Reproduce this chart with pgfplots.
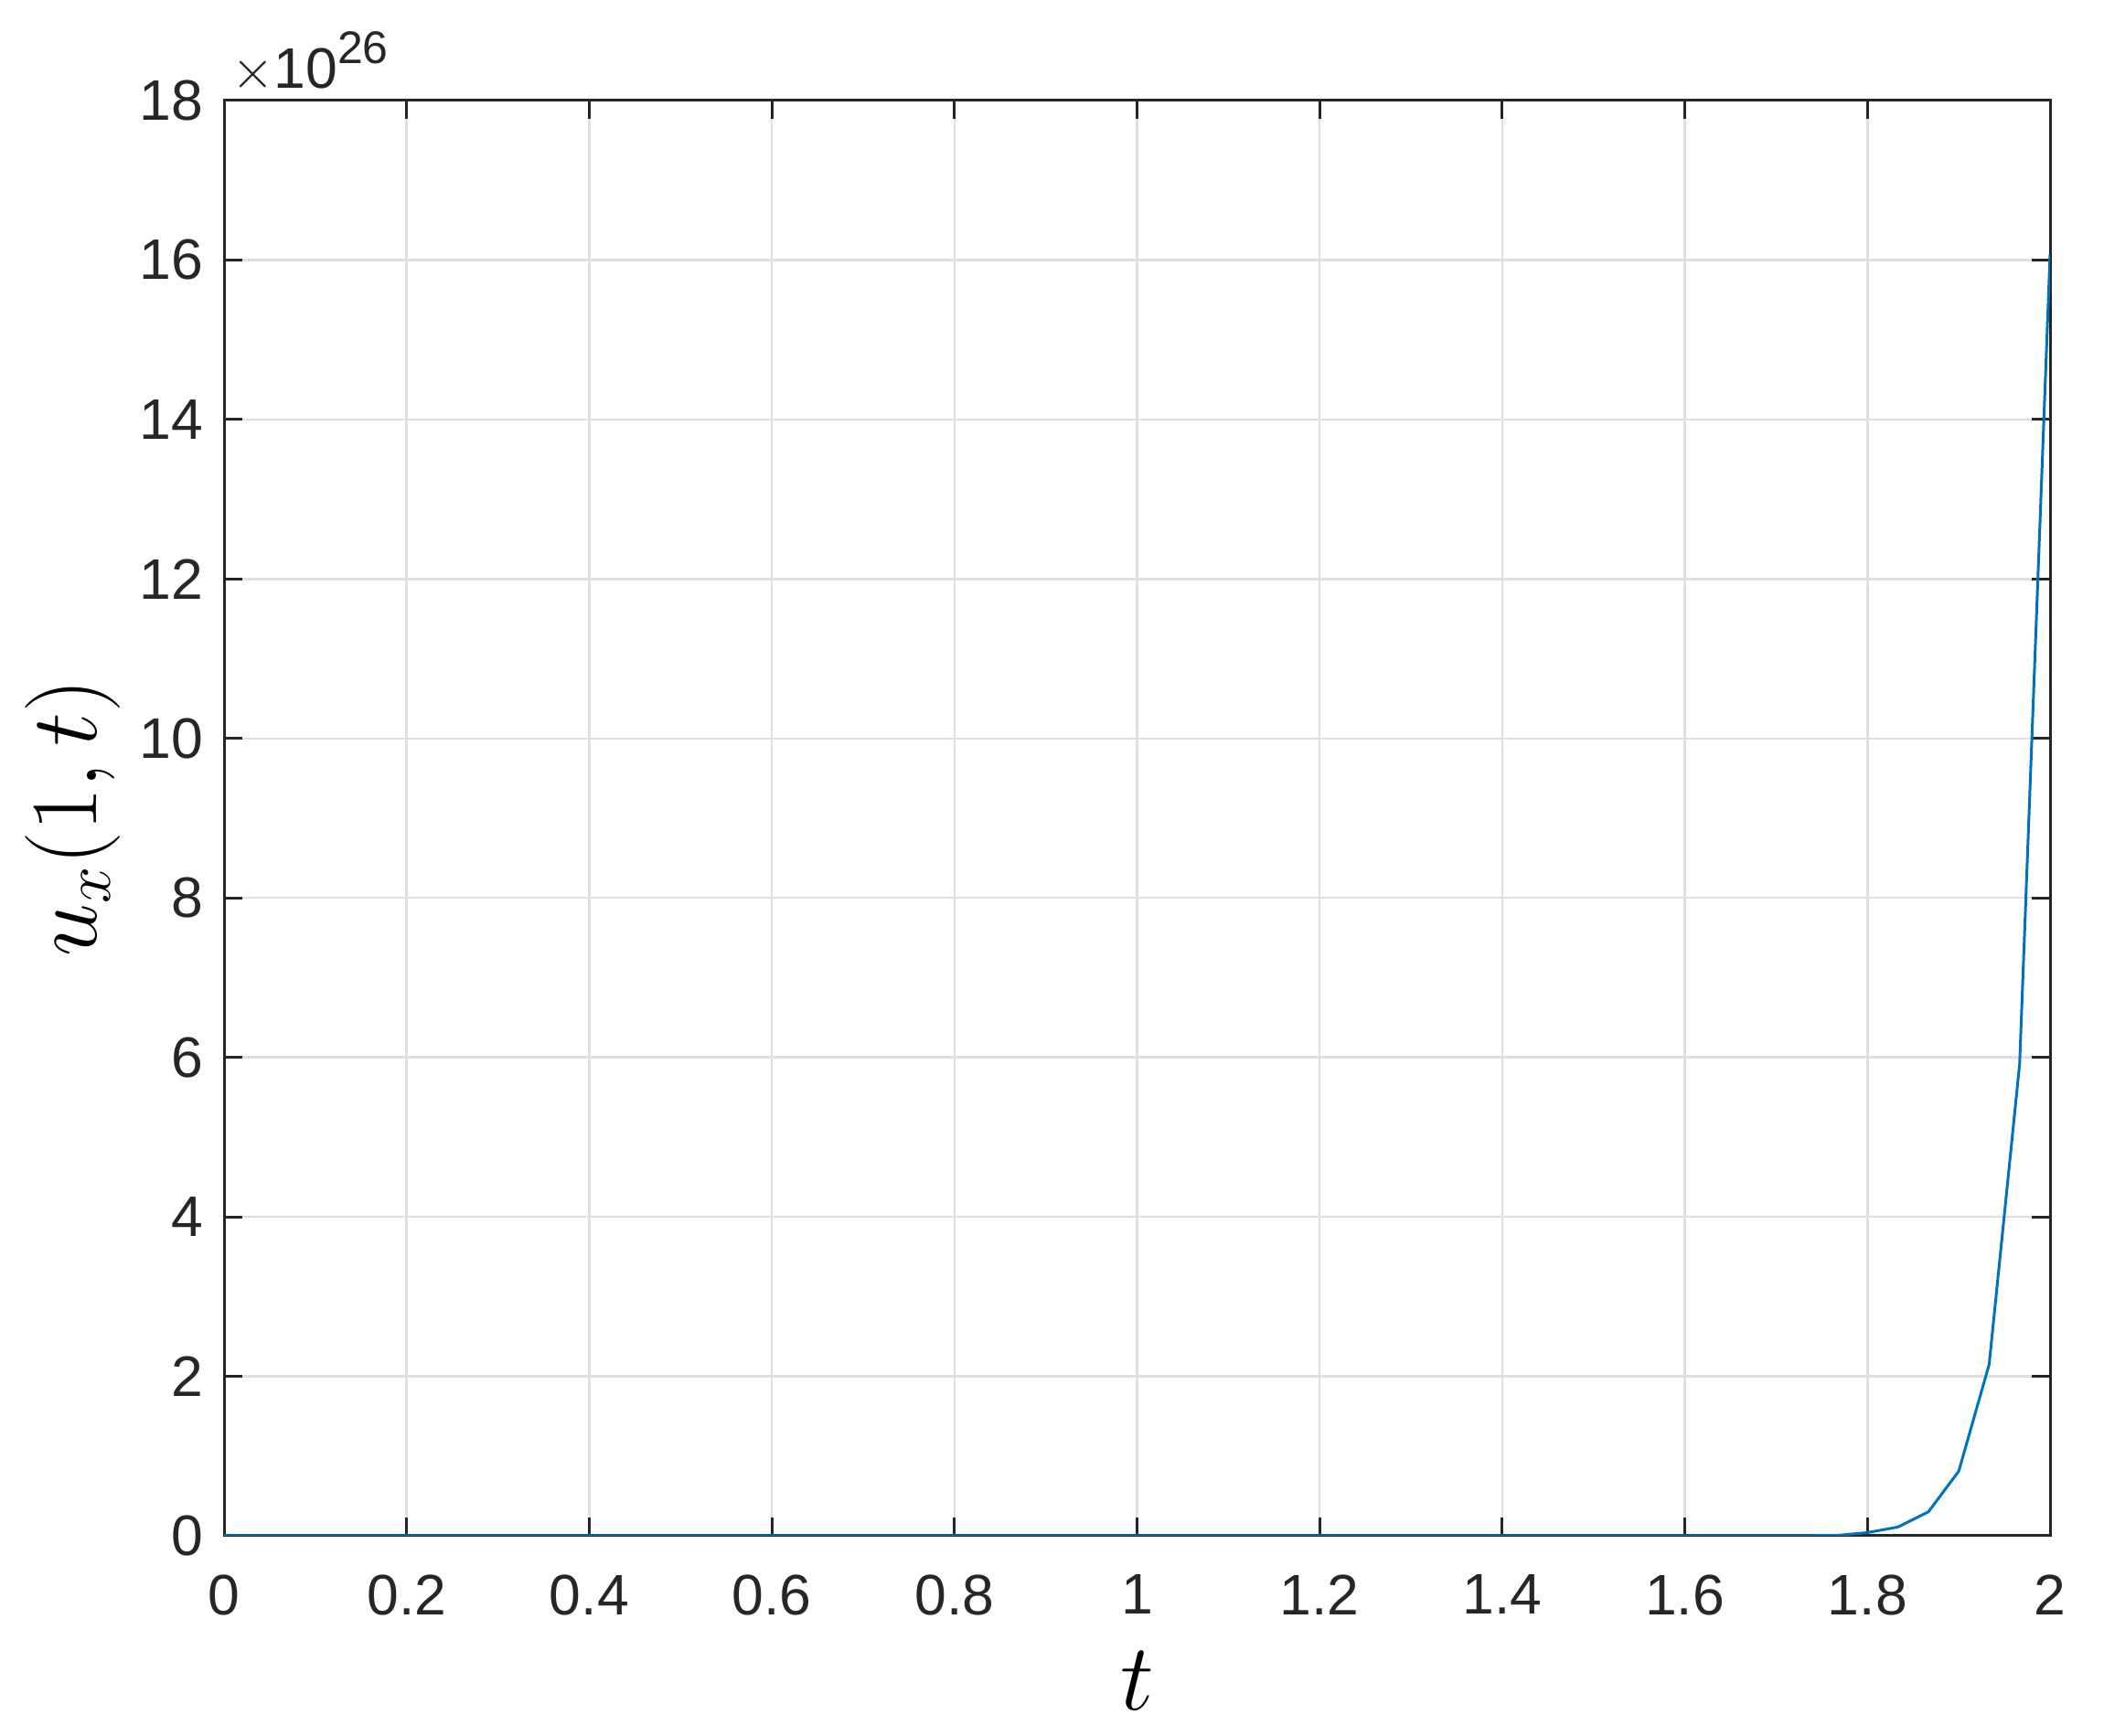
\documentclass[border=0pt]{standalone}
\usepackage{fontspec}
\setmainfont{Liberation Sans}
\usepackage{pgfplots}
\pgfplotsset{compat=1.18}
\definecolor{mblue}{RGB}{0,114,189}
\definecolor{mtext}{RGB}{38,38,38}
\definecolor{mgrid}{RGB}{223,223,223}
\begin{document}
\begin{tikzpicture}
\begin{axis}[
  scale only axis,
  width=399.4pt, height=314pt,
  xmin=0, xmax=2, ymin=0, ymax=18,
  xtick={0,0.2,...,2.0},
  ytick={0,2,...,18},
  xticklabels={0,0.2,0.4,0.6,0.8,1,1.2,1.4,1.6,1.8,2},
  /pgf/number format/assume math mode=true,
  tick label style={font=\fontsize{12.5}{14}\selectfont, text=mtext},
  xticklabel style={yshift=-5pt},
  yticklabel style={xshift=-1pt},
  grid=major,
  major grid style={mgrid, line width=0.5pt},
  axis line style={mtext, line width=0.6pt},
  tick style={mtext, line width=0.6pt},
  major tick length=4pt,
  tick align=inside,
  xtick pos=both, ytick pos=both,
  xlabel={$t$},
  ylabel={$u_x(1,t)$},
  label style={font=\fontsize{20}{22}\selectfont, text=black},
  xlabel style={yshift=-1pt},
  ylabel style={yshift=-2.5pt},
]
\addplot[mblue, line width=0.6pt] coordinates {
(0,0) (1.6333,0.0001) (1.6667,0.0003) (1.7,0.0007) (1.7333,0.002) (1.7667,0.0054)
(1.8,0.04) (1.8333,0.11) (1.8667,0.30) (1.9,0.81) (1.9333,2.15)
(1.9667,5.92) (2.0,16.07)
};
\end{axis}
\node[anchor=base west, inner sep=0pt, text=mtext, font=\fontsize{12.5}{14}\selectfont] at ([xshift=1.4pt,yshift=2.6pt]current axis.north west) {$\times$10\raisebox{5.4pt}{\fontsize{10}{12}\selectfont 26}};
\path ([xshift=-49pt,yshift=-43.8pt]current axis.south west) rectangle ([xshift=11.8pt,yshift=22pt]current axis.north east);
\end{tikzpicture}
\end{document}
